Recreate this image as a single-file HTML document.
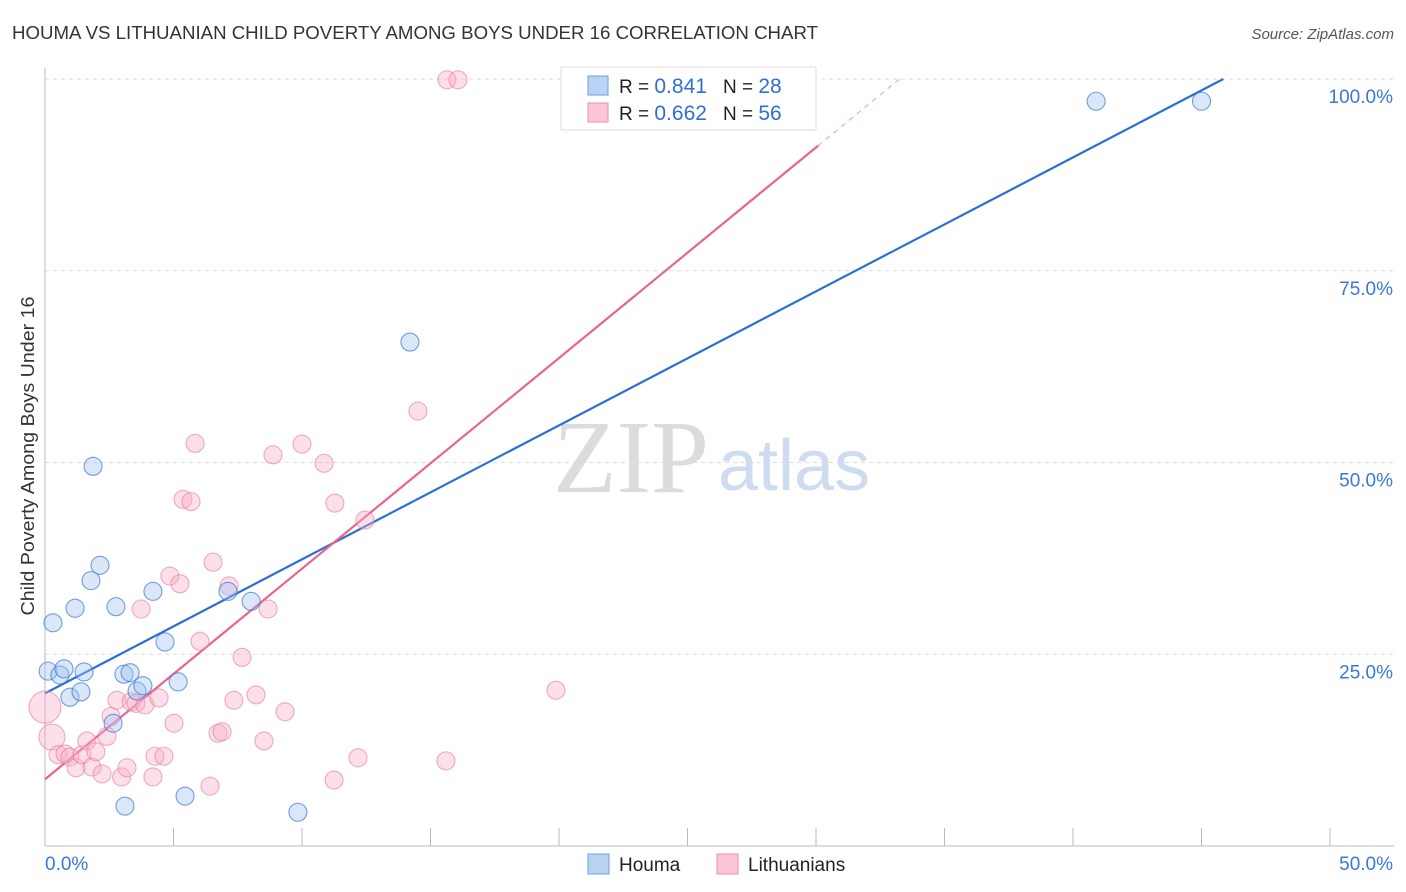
<!DOCTYPE html>
<html><head><meta charset="utf-8"><style>
body{margin:0;background:#fff;font-family:"Liberation Sans",sans-serif;}
#wrap{position:relative;width:1406px;height:892px;overflow:hidden;}
</style></head><body>
<div id="wrap">
<svg id="svg" width="1406" height="892" xmlns="http://www.w3.org/2000/svg">
<text x="12" y="39" font-size="18" fill="#333" textLength="806" lengthAdjust="spacingAndGlyphs">HOUMA VS LITHUANIAN CHILD POVERTY AMONG BOYS UNDER 16 CORRELATION CHART</text>
<text x="1394" y="39" font-size="15" fill="#555" font-style="italic" text-anchor="end">Source: ZipAtlas.com</text>
<text x="553" y="492" font-size="104" fill="#dcdcdc" font-family="Liberation Serif,serif">ZIP</text>
<text x="718" y="490" font-size="72" fill="#cddcf0">atlas</text>
<text transform="translate(34,456) rotate(-90)" font-size="18" fill="#333" text-anchor="middle" textLength="319" lengthAdjust="spacingAndGlyphs">Child Poverty Among Boys Under 16</text>
<g id="grid"></g><g id="axes"></g><g id="lines"></g><g id="pts"></g>
<g>
<rect x="561" y="67" width="255" height="63" fill="#fff" stroke="#ddd"/>
<rect x="588" y="76" width="20" height="19" fill="#b9d3f5" stroke="#6d9de0"/>
<rect x="588" y="103" width="20" height="19" fill="#fbc7d6" stroke="#ec8fae"/>
<text x="619" y="93" font-size="19" fill="#222">R = <tspan fill="#2f6fd1" font-size="21"> 0.841</tspan><tspan dx="16">N = </tspan><tspan fill="#2f6fd1" font-size="21">28</tspan></text>
<text x="619" y="120" font-size="19" fill="#222">R = <tspan fill="#2f6fd1" font-size="21">0.662</tspan><tspan dx="16">N = </tspan><tspan fill="#2f6fd1" font-size="21">56</tspan></text>
</g>
<g>
<rect x="588" y="854" width="21" height="20" fill="#b9d3f5" stroke="#6d9de0"/>
<text x="619" y="871" font-size="19" fill="#222">Houma</text>
<rect x="717" y="854" width="21" height="20" fill="#fbc7d6" stroke="#ec8fae"/>
<text x="748" y="871" font-size="19" fill="#222">Lithuanians</text>
</g>
</svg>
</div>
<script>
const houmaX=[0.12,0.31,0.58,0.74,0.97,1.17,1.40,1.52,1.79,1.87,2.14,2.76,2.65,3.07,3.31,3.58,3.81,4.20,4.67,5.18,5.45,3.11,7.12,8.02,9.84,14.2,40.9,45.0];
const houmaY=[22.8,29.1,22.3,23.1,19.4,31.0,20.1,22.7,34.6,49.5,36.6,31.2,16.0,22.4,22.6,20.2,20.9,33.2,26.6,21.4,6.5,5.2,33.2,31.9,4.4,65.7,97.1,97.1];
const lithX=[0,0.27,0.51,0.78,0.97,1.21,1.44,1.63,1.83,1.98,2.22,2.41,2.57,2.80,2.98,3.19,3.35,3.54,3.74,3.89,4.20,4.28,4.44,4.63,4.86,5.02,5.25,5.37,5.68,5.84,6.03,6.42,6.54,6.73,6.89,7.16,7.35,7.67,8.21,8.52,8.68,8.87,9.34,10.0,10.86,11.25,11.28,12.18,12.45,14.51,15.64,16.07,15.60,19.88];
const lithY=[18.1,14.2,11.9,12.0,11.6,10.2,11.9,13.7,10.3,12.3,9.4,14.3,16.9,19.0,9.0,10.2,18.8,18.6,30.9,18.4,9.0,11.7,19.3,11.7,35.2,16.0,34.2,45.2,44.9,52.5,26.7,7.8,37.0,14.7,14.9,33.9,19.0,24.6,19.7,13.7,30.9,51.0,17.5,52.4,49.9,8.6,44.7,11.5,42.5,56.7,99.9,99.9,11.1,20.3];
const houmaFit=[19.9,1.747];
const lithFit=[8.7,2.746];
const xTicks=[0,5,10,15,20,25,30,35,40,45,50];
const yTicks=[25,50,75,100];
const NS="http://www.w3.org/2000/svg";
const X=v=>45+v/50*1285, Y=v=>846-v/100*767;
function mk(t,a,p){const e=document.createElementNS(NS,t);for(const k in a)e.setAttribute(k,a[k]);document.getElementById(p).appendChild(e);return e;}
yTicks.forEach(t=>{
 const g=mk('line',{x1:45,x2:1394,y1:Y(t),y2:Y(t),stroke:'#ddd','stroke-dasharray':'4,4'},'grid');
 
 
 const l=mk('text',{x:1393,y:Y(t)+24,'font-size':19,fill:'#3a78d6','text-anchor':'end'},'grid');
 l.textContent=t.toFixed(1)+'%';
 
 
});
mk('line',{x1:45,x2:45,y1:68,y2:846,stroke:'#bbb'},'axes');
mk('line',{x1:45,x2:1394,y1:846,y2:846,stroke:'#bbb'},'axes');
xTicks.forEach(t=>{
 const e=mk('line',{x1:X(t),x2:X(t),y1:828,y2:846,stroke:'#bbb'},'axes');
 
 
});
[[0,45,'start'],[50,1393,'end']].forEach(d=>{
 const l=mk('text',{x:d[1],y:870,'font-size':19,fill:'#3a78d6','text-anchor':d[2]},'axes');
 l.textContent=d[0].toFixed(1)+'%';
 
 
});
function pts(xs,ys,fill,stroke,name){
 xs.forEach((x,i)=>{
  const r=(i<2&&name==='lithuanian-point')?(i==0?16:13):9;
  const c=mk('circle',{cx:X(x),cy:Y(ys[i]),r:r,fill:fill,stroke:stroke,'stroke-width':1.1},'pts');
  
  
 });
}
pts(lithX,lithY,'rgba(248,175,197,0.4)','rgba(232,120,155,0.6)','lithuanian-point');
pts(houmaX,houmaY,'rgba(160,196,240,0.4)','rgba(60,120,210,0.7)','houma-point');
const hx2=(100-houmaFit[0])/houmaFit[1];
const hl=mk('line',{x1:X(0),y1:Y(houmaFit[0]),x2:X(hx2),y2:Y(100),stroke:'#2a6fd6','stroke-width':2.2},'lines');


const lxEnd=30.08,lx2=(100-lithFit[0])/lithFit[1];
const ll=mk('line',{x1:X(0),y1:Y(lithFit[0]),x2:X(lxEnd),y2:Y(lithFit[0]+lithFit[1]*lxEnd),stroke:'#e8648f','stroke-width':2.2},'lines');


const ld=mk('line',{x1:X(lxEnd),y1:Y(lithFit[0]+lithFit[1]*lxEnd),x2:X(lx2),y2:Y(100),stroke:'#f0a8c0','stroke-width':1.2,'stroke-dasharray':'5,5'},'lines');


</script>
</body></html>
